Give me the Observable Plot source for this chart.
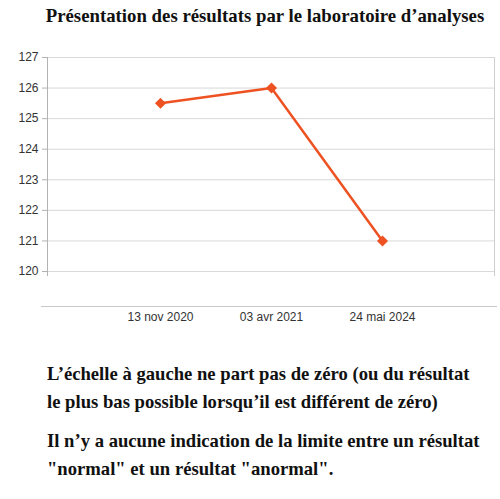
<!DOCTYPE html>
<html>
<head>
<meta charset="utf-8">
<script src="https://cdn.jsdelivr.net/npm/d3@7"></script>
<script src="https://cdn.jsdelivr.net/npm/@observablehq/plot@0.6"></script>
<style>
  html, body { margin: 0; padding: 0; background: #fff; }
  #wrap { position: relative; width: 500px; height: 499px; overflow: hidden; }
  #chart { position: absolute; top: 0; left: 0; z-index: 0; }
  #title { position: absolute; top: 5px; left: 0px; width: 530px; text-align: center; z-index: 2;
    font: bold 18.8px "Liberation Serif", serif; color: #111; white-space: nowrap; }
  #caption { position: absolute; top: 360px; left: 47px; width: 453px; z-index: 2;
    font: bold 18.65px "Liberation Serif", serif; color: #111; line-height: 28px; white-space: nowrap; }
  #caption p { margin: 0 0 11px 0; }
</style>
</head>
<body>
<div id="wrap">
  <div id="chart"></div>
  <div id="title">Présentation des résultats par le laboratoire d’analyses</div>
  <div id="caption">
    <p>L’échelle à gauche ne part pas de zéro (ou du résultat<br>le plus bas possible lorsqu’il est différent de zéro)</p>
    <p>Il n’y a aucune indication de la limite entre un résultat<br>"normal" et un résultat "anormal".</p>
  </div>
</div>
<script>
const dates = ["13 nov 2020", "03 avr 2021", "24 mai 2024"];
const values = [125.5, 126, 121];
const yTicks = [120, 121, 122, 123, 124, 125, 126, 127];

const data = dates.map((d, i) => ({date: d, value: values[i]}));
const color = "#ee5222";

const plot = Plot.plot({
  width: 500,
  height: 340,
  marginTop: 57,
  marginBottom: 65,
  marginLeft: 47,
  marginRight: 6,
  style: {fontFamily: "'Liberation Sans', Arial, sans-serif", fontSize: "12px", color: "#333", background: "transparent"},
  x: {type: "point", domain: dates, padding: 1, label: null},
  y: {domain: [120, 127], ticks: yTicks, insetBottom: 4, label: null},
  marks: [
    Plot.gridY(yTicks, {stroke: "#d9d9d9", strokeOpacity: 1}),
    Plot.frame({anchor: "left", stroke: "#b3b3b3"}),
    Plot.frame({anchor: "right", stroke: "#d0d0d0"}),
    Plot.axisY(yTicks, {tickSize: 5, tickPadding: 4, stroke: "#b3b3b3", fill: "#333", tickFormat: d => String(d), label: null}),
    Plot.ruleY([120], {dy: 35, insetLeft: -6, insetRight: -3, stroke: "#c8c8c8"}),
    Plot.axisX({tickSize: 0, tickPadding: 37, fill: "#333", label: null}),
    Plot.line(data, {x: "date", y: "value", stroke: color, strokeWidth: 2.5}),
    Plot.dot(data, {x: "date", y: "value", symbol: "diamond2", r: 4, fill: color, stroke: color})
  ]
});
document.getElementById("chart").appendChild(plot);
</script>
</body>
</html>
